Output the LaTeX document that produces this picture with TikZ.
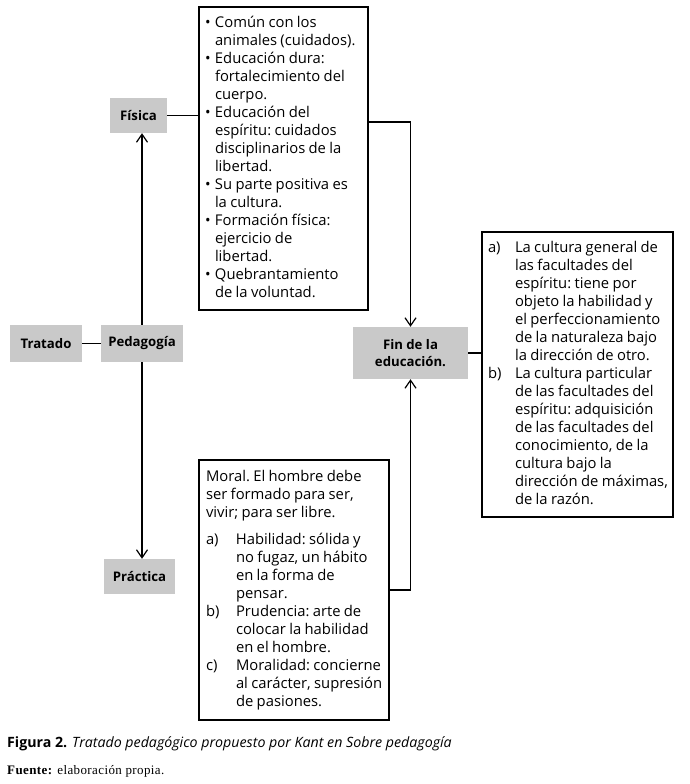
\documentclass[tikz,border=0pt]{standalone}
\usepackage{fontspec}
\setmainfont{Open Sans}
\newfontfamily\fuentefont[LetterSpace=3]{Liberation Serif}
\usepackage{tikz}
\usetikzlibrary{arrows.meta, positioning, calc}
\colorlet{grisnodo}{black!21}
\newcommand{\textocaja}{\fontsize{14.8}{18}\selectfont\frenchspacing}
\newcommand{\vineta}{\textbullet}

\begin{document}
\begin{tikzpicture}[x=1pt, y=-1pt,
    tema/.style={fill=grisnodo, inner sep=0pt, align=center,
      font=\bfseries\fontsize{13.2}{17}\selectfont},
    caja/.style={draw, line width=1.8pt, inner ysep=0pt, align=left},
    enlace/.style={line width=1.2pt},
    flecha/.style={enlace, -{Straight Barb[length=8pt, width=11pt]}}]
    \useasboundingbox (0,0) rectangle (690,784);
    % nodos grises
    \node[tema, minimum width=72pt, minimum height=37pt] (tratado) at (46,343.5) {Tratado};
    \node[tema, minimum width=82pt, minimum height=37pt] (pedagogia) at (142,343.5) {Pedagog\'ia};
    \node[tema, minimum width=57pt, minimum height=35pt] (fisica) at (138.5,115.5) {F\'isica};
    \node[tema, minimum width=71pt, minimum height=35pt] (practica) at (139.5,576.5) {Pr\'actica};
    \node[tema, minimum width=115pt, minimum height=52pt] (fin) at (410.5,353) {Fin de la\\educaci\'on.};
    % cajas de texto
    \node[caja, minimum width=169pt, minimum height=303pt, inner xsep=6pt, text width=157pt]
      (fisbox) at (283.5,158.5) {\textocaja
      \begin{tabular}{@{}p{10pt}@{}l@{}}
        \vineta & Común con los\\
                & animales (cuidados).\\
        \vineta & Educación dura:\\
                & fortalecimiento del\\
                & cuerpo.\\
        \vineta & Educación del\\
                & espíritu: cuidados\\
                & disciplinarios de la\\
                & libertad.\\
        \vineta & Su parte positiva es\\
                & la cultura.\\
        \vineta & Formación física:\\
                & ejercicio de\\
                & libertad.\\
        \vineta & Quebrantamiento\\
                & de la voluntad.
      \end{tabular}};
    \node[caja, minimum width=191pt, minimum height=285pt, inner xsep=6pt, text width=179pt]
      (finbox) at (577.5,374.5) {\textocaja
      \begin{tabular}{@{}p{27pt}@{}l@{}}
        a) & La cultura general de\\
           & las facultades del\\
           & espíritu: tiene por\\
           & objeto la habilidad y\\
           & el perfeccionamiento\\
           & de la naturaleza bajo\\
           & la dirección de otro.\\
        b) & La cultura particular\\
           & de las facultades del\\
           & espíritu: adquisición\\
           & de las facultades del\\
           & conocimiento, de la\\
           & cultura bajo la\\
           & dirección de máximas,\\
           & de la razón.
      \end{tabular}};
    \node[caja, minimum width=190pt, minimum height=260pt, inner xsep=7pt, text width=176pt]
      (pracbox) at (294,590) {\textocaja
      \begin{tabular}{@{}p{30pt}@{}l@{}}
        \multicolumn{2}{@{}l@{}}{Moral. El hombre debe}\\
        \multicolumn{2}{@{}l@{}}{ser formado para ser,}\\
        \multicolumn{2}{@{}l@{}}{vivir; para ser libre.}\\[9pt]
        a) & Habilidad: sólida y\\
           & no fugaz, un hábito\\
           & en la forma de\\
           & pensar.\\
        b) & Prudencia: arte de\\
           & colocar la habilidad\\
           & en el hombre.\\
        c) & Moralidad: concierne\\
           & al carácter, supresión\\
           & de pasiones.
      \end{tabular}};
    % conectores
    \draw[enlace] (tratado) -- (pedagogia);
    \draw[enlace] (fisica.east) -- (fisica.east -| fisbox.west);
    \draw[flecha] (pedagogia.north) -- (pedagogia.north |- fisica.south);
    \draw[flecha] (pedagogia.south) -- (pedagogia.south |- practica.north);
    \draw[flecha] ($(fisbox.north east)!0.38!(fisbox.south east)$) -| (fin.north);
    \draw[flecha] (pracbox.east) -| (fin.south);
    \draw[enlace] (fin.east) -- (fin.east -| finbox.west);
    % pie de figura
    \node[anchor=west, inner sep=0pt, font=\fontsize{14.2}{16}\selectfont] (titulo) at (7,744)
      {\textbf{Figura 2.} \textit{Tratado pedagógico propuesto por Kant en Sobre pedagogía}};
    \node[anchor=west, inner sep=0pt, font=\fuentefont\fontsize{13}{15}\selectfont] (fuente) at (7,771)
      {\textbf{Fuente:} elaboración propia.};
\end{tikzpicture}
\end{document}
